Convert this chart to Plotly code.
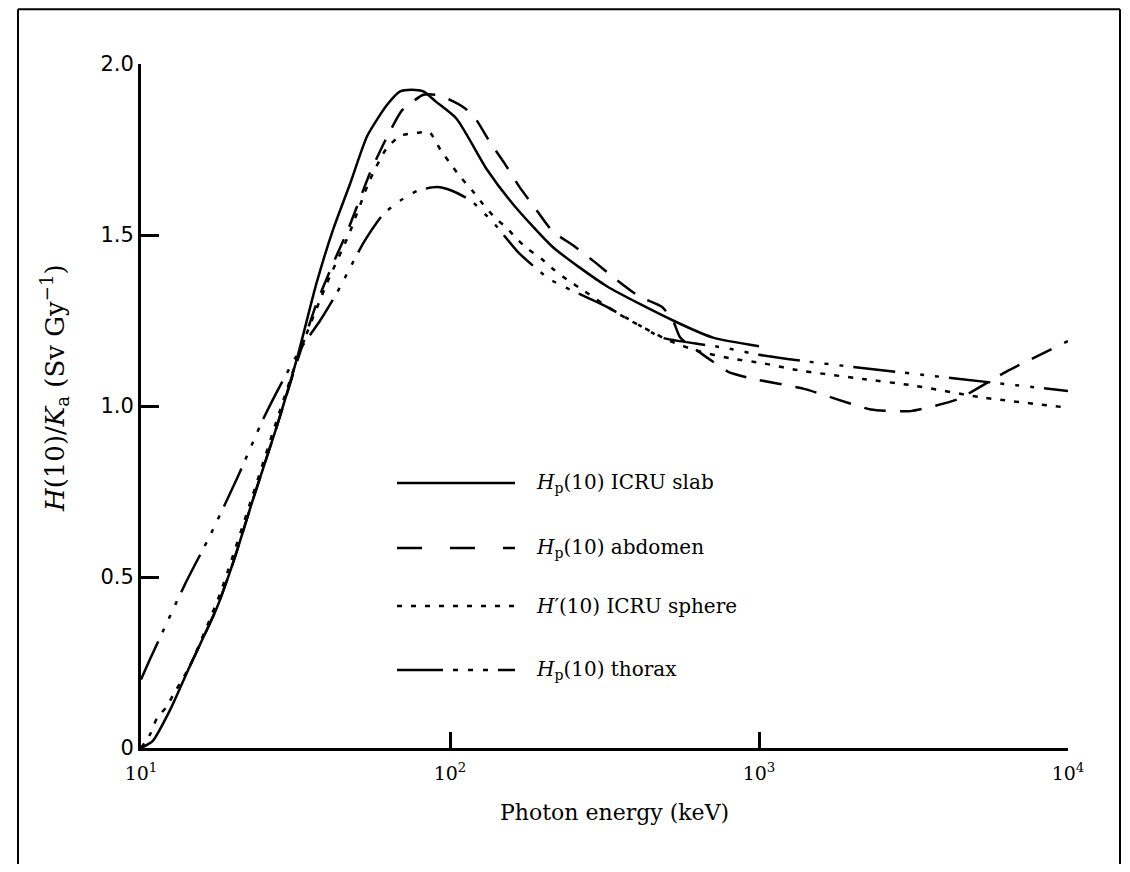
import plotly.graph_objects as go

# ---- data (photon energy in keV, H(10)/Ka in Sv/Gy) ----
slab_E = [10, 10.9, 12.4, 14.4, 17.6, 20, 23, 27.5, 32, 37, 42, 47.5, 54, 62.5, 69, 75, 82, 90, 105, 132, 160, 215, 322, 527, 710, 1000]
slab_H = [0.0, 0.02, 0.11, 0.24, 0.41, 0.55, 0.725, 0.94, 1.14, 1.36, 1.52, 1.65, 1.79, 1.88, 1.92, 1.925, 1.92, 1.89, 1.84, 1.69, 1.59, 1.465, 1.35, 1.25, 1.20, 1.175]

abd_E = [14.4, 17.6, 20, 23, 27.5, 32, 37, 42, 47, 55, 62, 70, 82, 90, 100, 112, 121, 135, 150, 168, 188, 215, 250, 295, 345, 410, 485, 527, 556, 683, 795, 950, 1400, 2300, 3100, 4400, 6300, 10000]
abd_H = [0.24, 0.41, 0.55, 0.725, 0.94, 1.13, 1.30, 1.42, 1.52, 1.68, 1.78, 1.865, 1.91, 1.91, 1.895, 1.87, 1.84, 1.77, 1.71, 1.64, 1.58, 1.51, 1.47, 1.42, 1.37, 1.32, 1.29, 1.25, 1.20, 1.14, 1.10, 1.08, 1.05, 0.99, 0.985, 1.02, 1.10, 1.19]

sph_E = [10, 10.7, 11.3, 12.1, 12.7, 13.6, 14.4, 18, 23, 28, 33, 40, 47, 55, 62, 69, 80, 86, 93, 100, 108, 118, 128, 140, 153, 164, 178, 198, 216, 239, 263, 350, 515, 640, 800, 1030, 1330, 2170, 3150, 5190, 10000]
sph_H = [0.0, 0.04, 0.09, 0.12, 0.155, 0.2, 0.24, 0.45, 0.74, 0.98, 1.17, 1.36, 1.50, 1.66, 1.75, 1.79, 1.80, 1.80, 1.75, 1.71, 1.67, 1.63, 1.59, 1.55, 1.52, 1.49, 1.46, 1.43, 1.40, 1.37, 1.345, 1.27, 1.19, 1.16, 1.14, 1.125, 1.105, 1.079, 1.06, 1.026, 0.995]

thx_E = [10, 10.7, 13.9, 16.7, 20.5, 24.8, 28.6, 33, 38, 43, 52.7, 60.7, 68.9, 78.8, 90.8, 101, 117, 140, 166, 211, 322, 421, 485, 776, 1000, 1462, 4467, 10000]
thx_H = [0.2, 0.26, 0.48, 0.62, 0.79, 0.96, 1.07, 1.17, 1.25, 1.33, 1.48, 1.56, 1.60, 1.63, 1.64, 1.63, 1.60, 1.53, 1.45, 1.37, 1.29, 1.23, 1.20, 1.17, 1.15, 1.129, 1.079, 1.044]

x_tick_vals = [10, 100, 1000, 10000]
x_tick_text = ["10<sup>1</sup>", "10<sup>2</sup>", "10<sup>3</sup>", "10<sup>4</sup>"]
y_tick_vals = [0, 0.5, 1.0, 1.5, 2.0]
y_tick_text = ["0", "0.5", "1.0", "1.5", "2.0"]

legend_labels = [
    "<i>H</i><sub>p</sub>(10) ICRU slab",
    "<i>H</i><sub>p</sub>(10) abdomen",
    "<i>H</i>′(10) ICRU sphere",
    "<i>H</i><sub>p</sub>(10) thorax",
]

SERIF = "DejaVu Serif"
SANS = "DejaVu Sans"
LW = 2.5

fig = go.Figure()
fig.add_trace(go.Scatter(x=slab_E, y=slab_H, mode="lines",
                         line=dict(color="black", width=LW, shape="spline", smoothing=0.6)))
fig.add_trace(go.Scatter(x=abd_E, y=abd_H, mode="lines",
                         line=dict(color="black", width=LW, dash="22px,14px", shape="spline", smoothing=0.5)))
fig.add_trace(go.Scatter(x=sph_E, y=sph_H, mode="lines",
                         line=dict(color="black", width=LW, dash="5px,9px", shape="spline", smoothing=0.6)))
fig.add_trace(go.Scatter(x=thx_E, y=thx_H, mode="lines",
                         line=dict(color="black", width=LW, dash="42px,10px,4px,11px,4px,11px,4px,10px",
                                   shape="spline", smoothing=0.6)))

# page body adds an 8px offset; work in screen pixels and convert
OFF = 8
W, H = 1114, 856
X0S, X1S, Y0S, Y1S = 141, 1068, 748, 64   # plot area in screen pixels
L = X0S - OFF
R = W - (X1S - OFF)
T = Y1S - OFF
B = H - (Y0S - OFF)
pw, ph = X1S - X0S, Y0S - Y1S

def px(xs):
    return (xs - X0S) / pw

def py(ys):
    return (Y0S - ys) / ph

frame = dict(color="black", width=2)
xl, xr = px(18), px(W + OFF - 2)
yt, yb = py(OFF + 1.2), py(H + OFF + 20)
shapes = [
    dict(type="line", xref="paper", yref="paper", x0=xl, x1=xr, y0=yt, y1=yt, line=frame),
    dict(type="line", xref="paper", yref="paper", x0=xl, x1=xl, y0=yb, y1=yt, line=frame),
    dict(type="line", xref="paper", yref="paper", x0=xr, x1=xr, y0=yb, y1=yt, line=frame),
]

# legend samples
leg_rows = [483, 548, 606, 670]
leg_dash = ["solid", "25px,28px", "5px,9px", "46px,10px,5px,10px,5px,10px,5px,10px"]
annotations = []
for row, dash, lab in zip(leg_rows, leg_dash, legend_labels):
    shapes.append(dict(type="line", xref="paper", yref="paper",
                       x0=px(397), x1=px(515), y0=py(row), y1=py(row),
                       line=dict(color="black", width=LW, dash=dash)))
    annotations.append(dict(xref="paper", yref="paper", x=px(534), y=py(row),
                            xanchor="left", yanchor="middle", text=lab, showarrow=False,
                            font=dict(family=SERIF, size=20, color="black")))

annotations.append(dict(xref="paper", yref="paper", x=px(54), y=py(388),
                        xanchor="center", yanchor="middle", textangle=-90, showarrow=False,
                        text="<i>H</i>(10)/<i>K</i><sub>a</sub> (Sv Gy<sup>−1</sup>)",
                        font=dict(family=SERIF, size=26, color="black")))
annotations.append(dict(xref="paper", yref="paper", x=px(614), y=py(812),
                        xanchor="center", yanchor="middle", showarrow=False,
                        text="Photon energy (keV)",
                        font=dict(family=SERIF, size=22, color="black")))

fig.update_layout(
    width=W, height=H,
    margin=dict(l=L, r=R, t=T, b=B, pad=0),
    paper_bgcolor="white", plot_bgcolor="white",
    showlegend=False,
    shapes=shapes, annotations=annotations,
    font=dict(family=SERIF, size=19, color="black"),
)
fig.update_xaxes(type="log", range=[1, 4], showgrid=False, zeroline=False,
                 showline=True, linecolor="black", linewidth=2.8,
                 ticks="inside", ticklen=16, tickwidth=2.5, tickcolor="black",
                 tickvals=x_tick_vals, ticktext=x_tick_text, ticklabelstandoff=6,
                 tickfont=dict(family=SERIF, size=19, color="black"))
fig.update_yaxes(range=[0, 2], showgrid=False, zeroline=False,
                 showline=True, linecolor="black", linewidth=2.8,
                 ticks="inside", ticklen=18, tickwidth=2.5, tickcolor="black",
                 tickvals=y_tick_vals, ticktext=y_tick_text,
                 tickfont=dict(family=SANS, size=21, color="black"))

fig.write_html("out.html")
